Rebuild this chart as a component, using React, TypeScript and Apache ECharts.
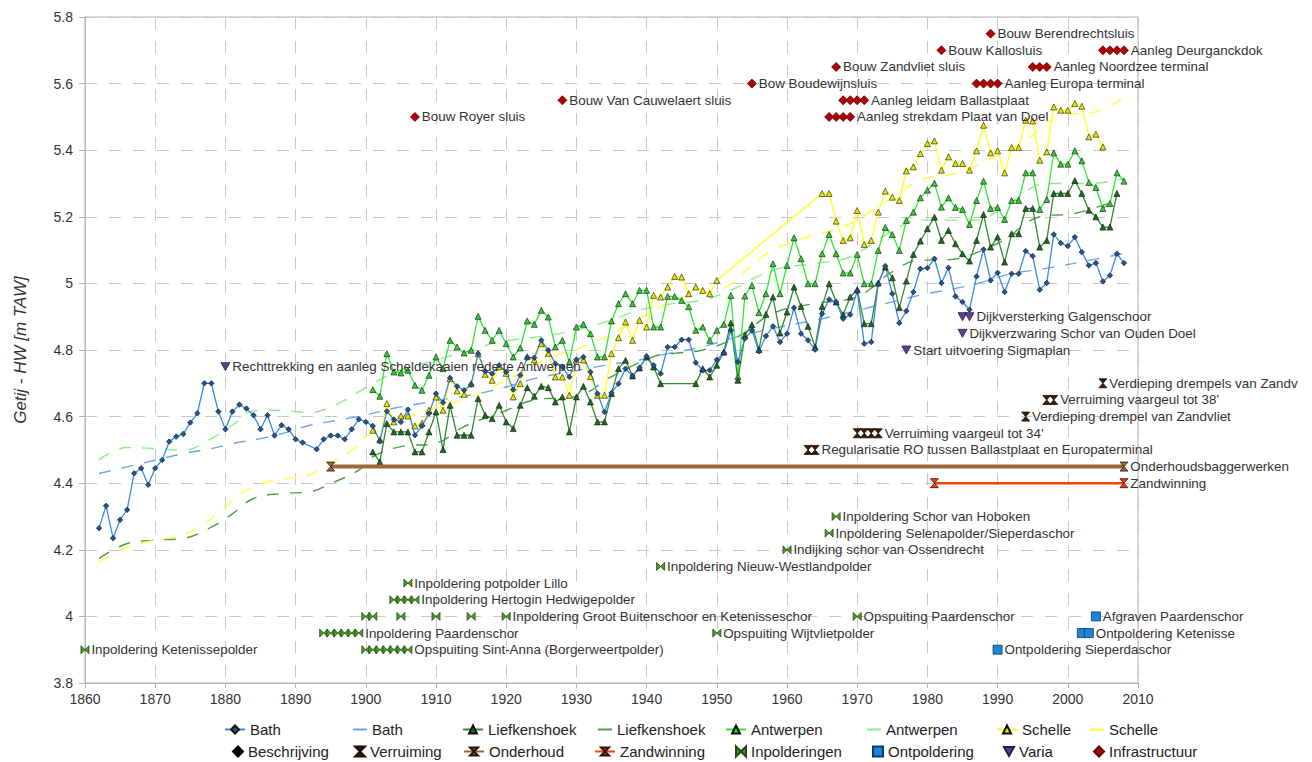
import { useEffect, useRef } from "react";
import * as echarts from "echarts";

// ---------- tidal high water series (m TAW) ----------
const bathStart = 1862;
const bathValues: (number | null)[] = [
  4.265, 4.332, 4.235, 4.29, 4.32, 4.43, 4.445, 4.395, 4.445, 4.47,
  4.525, 4.54, 4.548, 4.582, 4.61, 4.7, 4.7, 4.615, 4.562, 4.615,
  4.636, 4.624, 4.604, 4.562, 4.604, 4.543, 4.574, 4.562, 4.532, 4.522,
  null, 4.502, 4.532, 4.543, 4.543, 4.532, 4.562, 4.592, 4.584, 4.572,
  4.526, 4.616, 4.591, 4.584, 4.621, 4.544, 4.572, 4.609, 4.669, 4.642,
  4.716, 4.691, 4.679, 4.696, 4.789, 4.736, 4.729, 4.754, 4.734, 4.681,
  4.724, 4.777, 4.777, 4.829, 4.799, 4.759, 4.749, 4.719, 4.771, 4.779,
  4.734, 4.669, 4.614, 4.671, 4.699, 4.744, 4.722, 4.747, 4.781, 4.754,
  4.729, 4.809, 4.809, 4.831, 4.831, 4.762, 4.739, 4.739, 4.771, 4.791,
  4.859, 4.764, 4.834, 4.859, 4.796, 4.842, 4.871, 4.824, 4.849, 4.927,
  4.849, 4.829, 4.801, 4.909, 4.952, 4.944, 4.894, 4.906, 4.977, 4.819,
  4.824, 4.999, 5.052, 4.969, 4.881, 4.917, 4.974, 5.044, 5.046, 5.074,
  5.001, 5.047, 4.961, 4.944, 4.921, 5.021, 5.102, 5.009, 5.032, 4.974,
  5.029, 5.029, 5.097, 5.082, 4.981, 5.001, 5.147, 5.121, 5.112, 5.139,
  5.094, 5.054, 5.061, 5.006, 5.024, 5.089, 5.061,
];

const liefStart = 1901;
const liefValues: (number | null)[] = [
  4.494, 4.464, 4.579, 4.554, 4.554, 4.554, 4.494, 4.494, 4.554, 4.614,
  4.501, 4.634, 4.544, 4.544, 4.544, 4.654, 4.604, 4.594, 4.634, 4.584,
  4.564, 4.634, 4.687, 4.661, 4.691, 4.687, 4.644, 4.659, 4.554, 4.659,
  4.691, 4.644, 4.584, 4.584, 4.669, 4.744, 4.769, 4.722, 4.746, 4.779,
  4.749, 4.699, null, null, null, null, 4.699, 4.744, 4.719, 4.754,
  4.794, 4.881, 4.709, 4.844, 4.876, 4.801, 4.907, 4.959, 4.851, 4.914,
  4.989, 4.931, 4.871, 4.809, 4.931, 4.999, 4.944, 4.906, 4.959, 4.981,
  4.879, 4.879, 5.001, 5.049, 5.017, 4.927, 5.007, 5.087, 5.127, 5.164,
  5.199, 5.129, 5.159, 5.119, 5.089, 5.067, 5.129, 5.207, 5.109, 5.139,
  5.064, 5.149, 5.149, 5.225, 5.225, 5.109, 5.129, 5.27, 5.27, 5.27,
  5.309, 5.27, 5.22, 5.2, 5.169, 5.169, 5.27,
];

const antwStart = 1901;
const antwValues: (number | null)[] = [
  4.681, 4.661, 4.789, 4.734, 4.731, 4.739, 4.694, 4.679, 4.724, 4.779,
  4.744, 4.829, 4.809, 4.791, 4.799, 4.901, 4.859, 4.829, 4.859, 4.819,
  4.779, 4.806, 4.887, 4.877, 4.919, 4.899, 4.809, 4.829, 4.764, 4.869,
  4.877, 4.849, 4.779, 4.779, 4.887, 4.939, 4.969, 4.939, 4.979, 4.979,
  4.869, 4.869, 4.961, 4.961, 4.949, 4.93, 4.859, 4.869, 4.829, 4.859,
  4.877, 4.964, 4.72, 4.962, 4.994, 4.912, 4.969, 5.059, 4.969, 5.054,
  5.137, 5.074, 4.999, 4.999, 5.089, 5.147, 5.089, 5.031, 5.031, 5.087,
  4.999, 4.999, 5.099, 5.168, 5.147, 5.099, 5.189, 5.214, 5.257, 5.28,
  5.301, 5.229, 5.257, 5.228, 5.222, 5.177, 5.249, 5.307, 5.225, 5.228,
  5.192, 5.249, 5.249, 5.332, 5.332, 5.222, 5.252, 5.392, 5.358, 5.358,
  5.398, 5.368, 5.303, 5.288, 5.225, 5.24, 5.332, 5.307,
];

const scheStart = 1901;
const scheValues: (number | null)[] = [
  4.559, 4.53, 4.639, 4.584, 4.602, 4.602, 4.572, 4.58, 4.619, 4.659,
  4.619, 4.714, 4.677, 4.667, 4.699, 4.789, 4.727, 4.709, 4.75, 4.73,
  4.659, 4.699, 4.78, 4.77, 4.819, 4.79, 4.719, 4.719, 4.664, 4.77,
  4.77, 4.72, 4.664, 4.664, 4.789, 4.837, 4.884, 4.829, 4.889, 4.869,
  4.964, 4.959, 4.989, 5.021, 5.019, 4.969, 4.989, 4.979, 4.969, 5.009,
  null, null, null, null, null, null, null, null, null, null,
  null, null, null, null, 5.27, 5.27, 5.187, 5.129, 5.137, 5.219,
  5.117, 5.129, 5.214, 5.277, 5.259, 5.249, 5.338, 5.35, 5.39, 5.42,
  5.428, 5.34, 5.38, 5.36, 5.36, 5.34, 5.398, 5.475, 5.392, 5.398,
  5.332, 5.408, 5.408, 5.49, 5.488, 5.37, 5.395, 5.53, 5.52, 5.52,
  5.54, 5.532, 5.44, 5.448, 5.41,
];

// ---------- trend lines (read at sample years) ----------
const bathTrendYears = [1862, 1866, 1870, 1874, 1878, 1881, 1885, 1889, 1892, 1896, 1900, 1904, 1908, 1912, 1916, 1920, 1924, 1929, 1934, 1939, 1943, 1948, 1953, 1959, 1965, 1972, 1979, 1984, 1987, 1992, 1998, 2003, 2008];
const bathTrendValues = [4.429, 4.449, 4.469, 4.489, 4.504, 4.519, 4.534, 4.554, 4.574, 4.589, 4.605, 4.625, 4.64, 4.655, 4.669, 4.689, 4.714, 4.734, 4.754, 4.77, 4.789, 4.81, 4.84, 4.869, 4.894, 4.929, 4.965, 4.985, 4.999, 5.029, 5.049, 5.069, 5.09];

const liefTrendYears = [1862, 1866, 1870, 1874, 1878, 1881, 1884, 1888, 1892, 1895, 1899, 1901, 1905, 1910, 1914, 1919, 1924, 1930, 1935, 1941, 1944, 1948, 1953, 1958, 1964, 1970, 1975, 1979, 1982, 1990, 1996, 2001, 2007];
const liefTrendValues = [4.174, 4.219, 4.229, 4.234, 4.268, 4.308, 4.354, 4.369, 4.374, 4.399, 4.439, 4.479, 4.51, 4.52, 4.57, 4.61, 4.65, 4.66, 4.72, 4.78, 4.79, 4.8, 4.84, 4.91, 4.94, 4.96, 5.035, 5.07, 5.07, 5.12, 5.2, 5.21, 5.25];

const antwTrendYears = [1862, 1866, 1870, 1874, 1878, 1881, 1884, 1888, 1892, 1895, 1899, 1901, 1905, 1910, 1915, 1919, 1926, 1930, 1935, 1939, 1944, 1948, 1952, 1958, 1964, 1969, 1976, 1979, 1984, 1987, 1991, 1997, 2003, 2008];
const antwTrendValues = [4.47, 4.507, 4.504, 4.499, 4.534, 4.574, 4.617, 4.619, 4.612, 4.629, 4.674, 4.7, 4.74, 4.77, 4.8, 4.824, 4.844, 4.86, 4.89, 4.92, 4.94, 4.95, 4.98, 5.04, 5.06, 5.08, 5.17, 5.19, 5.19, 5.19, 5.23, 5.3, 5.3, 5.315];

const scheTrendYears = [1862, 1866, 1870, 1874, 1877, 1880, 1883, 1887, 1891, 1894, 1898, 1900, 1904, 1909, 1915, 1921, 1926, 1931, 1937, 1942, 1947, 1951, 1955, 1958, 1963, 1968, 1973, 1979, 1983, 1986, 1994, 1999, 2004, 2008];
const scheTrendValues = [4.163, 4.208, 4.229, 4.244, 4.279, 4.329, 4.379, 4.409, 4.419, 4.449, 4.499, 4.54, 4.58, 4.62, 4.66, 4.72, 4.775, 4.81, 4.87, 4.93, 4.97, 4.985, 5.054, 5.1, 5.14, 5.17, 5.23, 5.31, 5.325, 5.345, 5.43, 5.505, 5.515, 5.56];

// ---------- events ----------
type Ev = { label: string; years: number[]; value: number; cut?: number };

const infraEvents: Ev[] = [
  { label: "Bouw Royer sluis", years: [1907], value: 5.5 },
  { label: "Bouw Van Cauwelaert sluis", years: [1928], value: 5.55 },
  { label: "Bow Boudewijnsluis", years: [1955], value: 5.6 },
  { label: "Bouw Zandvliet sluis", years: [1967], value: 5.65 },
  { label: "Bouw Kallosluis", years: [1982], value: 5.7 },
  { label: "Bouw Berendrechtsluis", years: [1989], value: 5.75 },
  { label: "Aanleg Deurganckdok", years: [2005, 2006, 2007, 2008], value: 5.7 },
  { label: "Aanleg Noordzee terminal", years: [1995, 1996, 1997], value: 5.65 },
  { label: "Aanleg Europa terminal", years: [1987, 1988, 1989, 1990], value: 5.6 },
  { label: "Aanleg leidam Ballastplaat", years: [1968, 1969, 1970, 1971], value: 5.55 },
  { label: "Aanleg strekdam Plaat van Doel", years: [1966, 1967, 1968, 1969], value: 5.5 },
];

const variaEvents: Ev[] = [
  { label: "Rechttrekking en aanleg Scheldekaaien rede te Antwerpen", years: [1880], value: 4.75 },
  { label: "Dijkversterking Galgenschoor", years: [1985, 1986], value: 4.9 },
  { label: "Dijkverzwaring Schor van Ouden Doel", years: [1985], value: 4.85 },
  { label: "Start uitvoering Sigmaplan", years: [1977], value: 4.8 },
];

const verruimingEvents: Ev[] = [
  { label: "Verdieping drempels van Zandvliet", years: [2005], value: 4.7, cut: 190 },
  { label: "Verruiming vaargeul tot 38'", years: [1997, 1998], value: 4.65 },
  { label: "Verdieping drempel van Zandvliet", years: [1994], value: 4.6 },
  { label: "Verruiming vaargeul tot 34'", years: [1970, 1971, 1972, 1973], value: 4.55 },
  { label: "Regularisatie RO tussen Ballastplaat en Europaterminal", years: [1963, 1964], value: 4.5 },
];

const onderhoudEvent: Ev = { label: "Onderhoudsbaggerwerken", years: [1895, 2008], value: 4.45 };
const zandwinningEvent: Ev = { label: "Zandwinning", years: [1981, 2008], value: 4.4 };

const inpolderEvents: Ev[] = [
  { label: "Inpoldering Ketenissepolder", years: [1860], value: 3.9 },
  { label: "Inpoldering potpolder Lillo", years: [1906], value: 4.1 },
  { label: "Inpoldering Hertogin Hedwigepolder", years: [1904, 1905, 1906, 1907], value: 4.05 },
  { label: "Inpoldering Groot Buitenschoor en Ketenisseschor", years: [1900, 1901, 1905, 1910, 1915, 1920], value: 4.0 },
  { label: "Inpoldering Paardenschor", years: [1894, 1895, 1896, 1897, 1898, 1899], value: 3.95 },
  { label: "Opspuiting Sint-Anna (Borgerweertpolder)", years: [1900, 1901, 1902, 1903, 1904, 1905, 1906], value: 3.9 },
  { label: "Inpoldering Nieuw-Westlandpolder", years: [1942], value: 4.15 },
  { label: "Indijking schor van Ossendrecht", years: [1960], value: 4.2 },
  { label: "Inpoldering Selenapolder/Sieperdaschor", years: [1966], value: 4.25 },
  { label: "Inpoldering Schor van Hoboken", years: [1967], value: 4.3 },
  { label: "Opspuiting Paardenschor", years: [1970], value: 4.0 },
  { label: "Opspuiting Wijtvlietpolder", years: [1950], value: 3.95 },
];

const ontpolderEvents: Ev[] = [
  { label: "Afgraven Paardenschor", years: [2004], value: 4.0 },
  { label: "Ontpoldering Ketenisse", years: [2002, 2003], value: 3.95 },
  { label: "Ontpoldering Sieperdaschor", years: [1990], value: 3.9 },
];

const beschrijvingEvents: Ev[] = [];

// legend layout: [series name, row, text start x, icon width]
const legendItems: [string, number, number, number][] = [
  ["Bath", 0, 249, 20],
  ["Bath trend", 0, 372, 14],
  ["Liefkenshoek", 0, 487, 20],
  ["Liefkenshoek trend", 0, 617, 14],
  ["Antwerpen", 0, 750, 20],
  ["Antwerpen trend", 0, 886, 14],
  ["Schelle", 0, 1021, 20],
  ["Schelle trend", 0, 1109, 14],
  ["Beschrijving", 1, 247, 10],
  ["Verruiming", 1, 369, 10],
  ["Onderhoud", 1, 488, 20],
  ["Zandwinning", 1, 619, 20],
  ["Inpolderingen", 1, 750, 10],
  ["Ontpoldering", 1, 887, 10],
  ["Varia", 1, 1018, 10],
  ["Infrastructuur", 1, 1108, 10],
];

const HOURGLASS = "path://M0,0L10,0L0,10L10,10Z";
const BOWTIE = "path://M0,0L0,10L10,0L10,10Z";
const DOWNTRI = "path://M0,0L10,0L5,9Z";
const FONT = "Liberation Sans, Arial, sans-serif";
const ROW_TOP = [722, 744];

function seriesPairs(start: number, values: (number | null)[]) {
  const out: [number, number][] = [];
  values.forEach((v, i) => {
    if (v !== null) out.push([start + i, v]);
  });
  return out;
}
function trendPairs(years: number[], values: number[]) {
  return years.map((y, i) => [y, values[i]]);
}
function eventData(events: Ev[]) {
  return events.flatMap((ev) =>
    ev.years.map((y, i) => {
      const label: any = { show: i === ev.years.length - 1, formatter: ev.label };
      if (ev.cut) {
        label.width = ev.cut;
        label.overflow = "truncate";
        label.ellipsis = "";
      }
      return { value: [y, ev.value], label };
    })
  );
}

const labelStyle = {
  position: "right" as const,
  distance: 2,
  color: "#333",
  fontSize: 13.4,
  fontFamily: FONT,
};

export default function App() {
  const ref = useRef<HTMLDivElement>(null);
  useEffect(() => {
    if (!ref.current) return;
    const chart = echarts.init(ref.current, undefined, { renderer: "svg" });

    const dataLine = (name: string, start: number, values: (number | null)[], line: string, fill: string, symbol: string) => ({
      name,
      type: "line",
      data: seriesPairs(start, values),
      symbol,
      symbolSize: symbol === "diamond" ? 5.5 : 6,
      lineStyle: { color: line, width: 1.3 },
      itemStyle: { color: fill, borderColor: "#111", borderWidth: 0.6 },
      z: 3,
    });
    const trendLine = (name: string, data: any[], color: string) => ({
      name,
      type: "line",
      data,
      smooth: 0.4,
      symbol: "none",
      lineStyle: { color, width: 1.4, type: [12, 11] },
      itemStyle: { color },
      z: 2,
    });
    const eventSeries = (name: string, events: Ev[], symbol: string, size: any, color: string, border: string) => ({
      name,
      type: "scatter",
      data: eventData(events),
      symbol,
      symbolSize: size,
      itemStyle: { color, borderColor: border, borderWidth: 0.8, opacity: 1 },
      label: labelStyle,
      z: 5,
    });
    const rangeSeries = (name: string, ev: Ev, color: string, width: number, markColor: string) => ({
      name,
      type: "line",
      data: eventData([ev]),
      symbol: HOURGLASS,
      symbolSize: [8, 9],
      showAllSymbol: true,
      lineStyle: { color, width },
      itemStyle: { color: markColor, borderColor: "#2a1505", borderWidth: 0.8 },
      label: labelStyle,
      z: 4,
    });

    const legends = legendItems.map(([name, row, textX, w]) => {
      const isTrend = name.endsWith(" trend");
      const base: any = {
        data: [name],
        orient: "horizontal",
        left: textX - w - 5,
        top: ROW_TOP[row],
        itemWidth: w,
        itemHeight: 10,
        selectedMode: false,
        padding: 0,
        lineStyle: { type: "solid" },
        textStyle: { fontSize: 15, color: "#222", fontFamily: FONT },
        formatter: (n: string) => n.replace(" trend", ""),
      };
      if (isTrend) {
        base.icon = "rect";
        base.itemHeight = 2;
      }
      return base;
    });

    chart.setOption({
      animation: false,
      backgroundColor: "#ffffff",
      textStyle: { fontFamily: FONT },
      grid: { left: 85, right: 174, top: 17, bottom: 79, show: true, borderColor: "#b3b3b3", borderWidth: 1 },
      xAxis: {
        type: "value",
        min: 1860,
        max: 2010,
        interval: 10,
        axisLine: { show: true, lineStyle: { color: "#b3b3b3" } },
        axisTick: { show: true, length: 5, lineStyle: { color: "#b3b3b3" } },
        axisLabel: { color: "#333", fontSize: 14, margin: 9, fontFamily: FONT, formatter: (v: number) => String(v) },
        splitLine: { show: true, lineStyle: { color: "#c8c8c8", type: [12, 12], width: 1 } },
      },
      yAxis: {
        type: "value",
        min: 3.8,
        max: 5.8,
        interval: 0.2,
        name: "Getij - HW [m TAW]",
        nameLocation: "middle",
        nameGap: 56,
        nameTextStyle: { fontStyle: "italic", fontSize: 17, color: "#333", fontFamily: FONT },
        axisLine: { show: true, lineStyle: { color: "#b3b3b3" } },
        axisTick: { show: true, length: 6, lineStyle: { color: "#b3b3b3" } },
        axisLabel: { color: "#333", fontSize: 14, margin: 12, fontFamily: FONT },
        splitLine: { show: true, lineStyle: { color: "#c8c8c8", type: [12, 12], width: 1 } },
      },
      legend: legends,
      series: [
        trendLine("Bath trend", trendPairs(bathTrendYears, bathTrendValues), "#6aa8ea"),
        trendLine("Liefkenshoek trend", trendPairs(liefTrendYears, liefTrendValues), "#4aa04a"),
        trendLine("Antwerpen trend", trendPairs(antwTrendYears, antwTrendValues), "#88f088"),
        trendLine("Schelle trend", trendPairs(scheTrendYears, scheTrendValues), "#ffff40"),
        dataLine("Schelle", scheStart, scheValues, "#ffff1a", "#e6e600", "triangle"),
        dataLine("Antwerpen", antwStart, antwValues, "#33e633", "#33cc33", "triangle"),
        dataLine("Liefkenshoek", liefStart, liefValues, "#2e8b2e", "#1d6b1d", "triangle"),
        dataLine("Bath", bathStart, bathValues, "#3a8ae0", "#1f5496", "diamond"),
        eventSeries("Beschrijving", beschrijvingEvents, "diamond", 9, "#000", "#000"),
        eventSeries("Verruiming", verruimingEvents, HOURGLASS, [8, 9], "#3a1c0c", "#1a0a00"),
        rangeSeries("Onderhoud", onderhoudEvent, "#9c6a3a", 4, "#9c6a3a"),
        rangeSeries("Zandwinning", zandwinningEvent, "#ff3d0d", 2.5, "#ff3d0d"),
        eventSeries("Inpolderingen", inpolderEvents, BOWTIE, [8, 8], "#4e9a2a", "#1f4a10"),
        eventSeries("Ontpoldering", ontpolderEvents, "rect", 9, "#1a86d6", "#0a3a6a"),
        eventSeries("Varia", variaEvents, DOWNTRI, [9, 8], "#5d3f8f", "#2a1a4a"),
        eventSeries("Infrastructuur", infraEvents, "diamond", 9, "#b00000", "#5a0000"),
      ],
    });
    return () => chart.dispose();
  }, []);
  return (
    <div
      ref={ref}
      style={{ position: "fixed", left: 0, top: 0, width: 1312, height: 762, background: "#fff" }}
    />
  );
}
